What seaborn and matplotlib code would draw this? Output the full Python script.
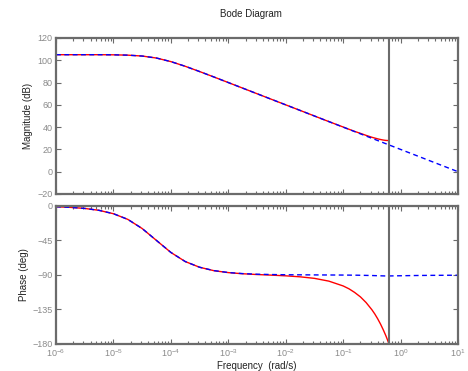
import numpy as np
import pandas as pd
import matplotlib
matplotlib.use("Agg")
import matplotlib.pyplot as plt
import matplotlib.ticker as mticker
import seaborn as sns

# Continuous-time response (blue dashed)
freq_c = [1e-6, 1.78e-6, 3.16e-6, 5.62e-6, 1e-5, 1.78e-5, 3.16e-5, 5.62e-5,
          1e-4, 1.78e-4, 3.16e-4, 5.62e-4, 1e-3, 1.78e-3, 3.16e-3, 5.62e-3,
          1e-2, 1.78e-2, 3.16e-2, 5.62e-2, 0.1, 0.178, 0.316, 0.562,
          1.0, 1.78, 3.16, 5.62, 10.0]
mag_c = [105.0, 105.0, 105.0, 105.0, 104.9, 104.6, 103.8, 102.0,
         98.8, 94.6, 89.9, 85.0, 80.0, 75.0, 70.0, 65.0,
         60.0, 55.0, 50.0, 45.0, 40.0, 35.0, 30.0, 25.0,
         20.0, 15.0, 10.0, 5.0, 0.0]
phase_c = [-1.0, -1.8, -3.2, -5.7, -10.1, -17.5, -29.4, -45.0,
           -60.6, -72.5, -79.9, -84.3, -86.8, -88.2, -89.0, -89.4,
           -89.7, -89.8, -89.9, -90.0, -90.1, -90.3, -90.7, -91.3,
           -91.0, -90.7, -90.5, -90.4, -90.3]

# Discrete-time response (red solid), up to the Nyquist frequency
freq_d = [1e-6, 1.78e-6, 3.16e-6, 5.62e-6, 1e-5, 1.78e-5, 3.16e-5, 5.62e-5,
          1e-4, 1.78e-4, 3.16e-4, 5.62e-4, 1e-3, 1.78e-3, 3.16e-3, 5.62e-3,
          1e-2, 1.78e-2, 3.16e-2, 5.62e-2, 0.1, 0.126, 0.158, 0.2,
          0.251, 0.316, 0.355, 0.398, 0.447, 0.501, 0.55, 0.589, 0.628]
mag_d = [105.0, 105.0, 105.0, 105.0, 104.9, 104.6, 103.8, 102.0,
         98.8, 94.6, 89.9, 85.0, 80.0, 75.0, 70.0, 65.0,
         60.0, 55.0, 50.0, 45.0, 40.1, 38.1, 36.2, 34.4,
         32.6, 30.9, 30.2, 29.5, 28.9, 28.4, 28.1, 28.0, 28.0]
phase_d = [-1.0, -1.8, -3.2, -5.7, -10.1, -17.5, -29.4, -45.0,
           -60.6, -72.5, -79.9, -84.4, -86.9, -88.4, -89.4, -90.2,
           -91.1, -92.4, -94.4, -98.0, -104.3, -108.0, -112.7, -118.6,
           -126.0, -135.3, -140.8, -147.0, -154.0, -161.8, -168.7, -174.3, -180.0]

nyquist = 0.628

freq_ticks = [1e-6, 1e-5, 1e-4, 1e-3, 1e-2, 1e-1, 1e0, 1e1]
mag_ticks = [-20, 0, 20, 40, 60, 80, 100, 120]
phase_ticks = [-180, -135, -90, -45, 0]

df_c = pd.DataFrame({"freq": freq_c, "mag": mag_c, "phase": phase_c})
df_d = pd.DataFrame({"freq": freq_d, "mag": mag_d, "phase": phase_d})

sns.set_style("ticks")
plt.rcParams["font.family"] = ["Liberation Sans", "DejaVu Sans"]

spine_col = "#6b6b6b"
tick_col = "#8a8a8a"

fig = plt.figure(figsize=(4.68, 3.71), dpi=100)
ax1 = fig.add_axes([0.1197, 0.4771, 0.859, 0.4205])
ax2 = fig.add_axes([0.1197, 0.0728, 0.859, 0.3720])

for ax, col in [(ax1, "mag"), (ax2, "phase")]:
    sns.lineplot(data=df_d, x="freq", y=col, ax=ax, color="#ff0000", lw=1.0)
    sns.lineplot(data=df_c, x="freq", y=col, ax=ax, color="#0000ff", lw=1.0,
                 linestyle=(0, (3.5, 2.5)))
    ax.axvline(nyquist, color=spine_col, lw=1.5)
    ax.set_xscale("log")
    ax.set_xlim(1e-6, 10)
    ax.set_xticks(freq_ticks)
    ax.xaxis.set_minor_locator(mticker.LogLocator(base=10, subs=np.arange(2, 10), numticks=20))
    ax.xaxis.set_minor_formatter(mticker.NullFormatter())
    for s in ax.spines.values():
        s.set_color(spine_col)
        s.set_linewidth(1.6)
    ax.tick_params(which="both", direction="in", top=True, right=True,
                   colors=spine_col, labelcolor=tick_col, labelsize=6.5, width=0.8, pad=2.5)
    ax.tick_params(which="major", length=3.5)
    ax.tick_params(which="minor", length=2)

ax1.set_ylim(-20, 120)
ax1.set_yticks(mag_ticks)
ax1.tick_params(labelbottom=False)
ax1.set_xlabel("")
ax1.set_ylabel("Magnitude (dB)", fontsize=7, color="#222222")
ax1.yaxis.set_label_coords(-0.057, 0.5)

ax2.set_ylim(-180, 0)
ax2.set_yticks(phase_ticks)
ax2.set_xlabel("Frequency  (rad/s)", fontsize=7, color="#222222", labelpad=1)
ax2.set_ylabel("Phase (deg)", fontsize=7, color="#222222")
ax2.yaxis.set_label_coords(-0.067, 0.5)

fig.text(0.536, 0.962, "Bode Diagram", ha="center", va="center", fontsize=7, color="#222222")

fig.savefig("out.png", dpi=100)
